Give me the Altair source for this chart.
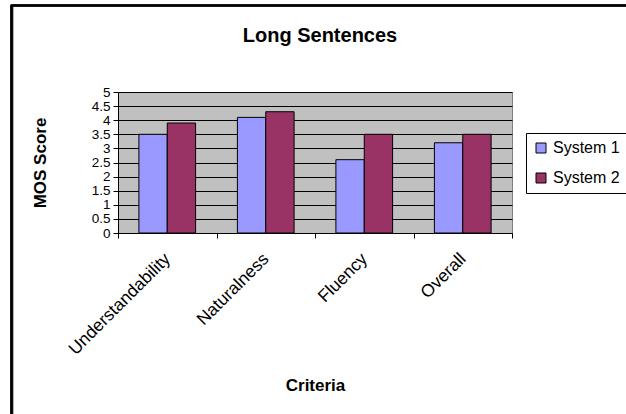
import altair as alt
import pandas as pd

# Mean opinion scores per criterion for the two systems
criteria = ["Understandability", "Naturalness", "Fluency", "Overall"]
system_names = ["System 1", "System 2"]
system1 = [3.5, 4.1, 2.6, 3.2]
system2 = [3.9, 4.3, 3.5, 3.5]
y_ticks = [0, 0.5, 1, 1.5, 2, 2.5, 3, 3.5, 4, 4.5, 5]

rows = []
for i, c in enumerate(criteria):
    rows.append({"Criteria": c, "System": system_names[0], "Score": system1[i]})
    rows.append({"Criteria": c, "System": system_names[1], "Score": system2[i]})
df = pd.DataFrame(rows)

FONT = "Liberation Sans"
W, H = 394, 141

bars = alt.Chart(df).mark_bar(stroke="black", strokeWidth=1).encode(
    x=alt.X(
        "Criteria:N",
        sort=criteria,
        scale=alt.Scale(paddingInner=0, paddingOuter=0),
        axis=alt.Axis(
            title="Criteria",
            titleFont=FONT,
            titleFontSize=17,
            titleFontWeight="bold",
            titleColor="black",
            titleX=W / 2,
            titleY=152,
            titleBaseline="middle",
            labelFont=FONT,
            labelFontSize=17.5,
            labelColor="black",
            labelAngle=315,
            labelAlign="right",
            labelBaseline="middle",
            labelPadding=18,
            tickBand="extent",
            tickColor="black",
            tickSize=5,
            domainColor="black",
            grid=False,
        ),
    ),
    xOffset=alt.XOffset(
        "System:N",
        sort=system_names,
        scale=alt.Scale(paddingInner=0, paddingOuter=0.737),
    ),
    y=alt.Y(
        "Score:Q",
        scale=alt.Scale(domain=[0, 5], nice=False),
        axis=alt.Axis(
            title="MOS Score",
            titleFont=FONT,
            titleFontSize=17,
            titleFontWeight="bold",
            titleColor="black",
            titleAngle=270,
            titleX=-78,
            titleY=H / 2,
            titleAlign="center",
            titleBaseline="middle",
            values=y_ticks,
            format="~g",
            labelFont=FONT,
            labelFontSize=13.5,
            labelColor="black",
            labelPadding=3,
            tickColor="black",
            tickSize=5,
            domainColor="black",
            grid=True,
            gridColor="black",
            gridWidth=1,
            gridOpacity=1,
        ),
    ),
    color=alt.Color(
        "System:N",
        sort=system_names,
        scale=alt.Scale(domain=system_names, range=["#9999FF", "#993366"]),
        legend=alt.Legend(
            title=None,
            orient="none",
            legendX=408,
            legendY=41,
            fillColor="white",
            strokeColor="black",
            padding=7,
            rowPadding=14,
            labelFont=FONT,
            labelFontSize=16,
            labelColor="black",
            labelOffset=4,
            symbolType="square",
            symbolSize=100,
            symbolStrokeColor="black",
            symbolStrokeWidth=1,
            symbolOpacity=1,
        ),
    ),
)

# Outer chart frame (top and left edges fall inside the canvas)
frame = alt.Chart(df).mark_rect(fill=None, stroke="black", strokeWidth=1.5).encode(
    x=alt.value(-106.5), x2=alt.value(700), y=alt.value(-86.5), y2=alt.value(500)
)
frame_shadow = alt.Chart(df).mark_rule(color="#b0b0b0", strokeWidth=1.5).encode(
    x=alt.value(-105), y=alt.value(-85), y2=alt.value(500)
)

chart = alt.layer(frame_shadow, frame, bars).properties(
    width=W,
    height=H,
    title=alt.TitleParams(
        "Long Sentences",
        font=FONT,
        fontSize=20,
        fontWeight="bold",
        color="black",
        anchor="middle",
        baseline="alphabetic",
        offset=-57,
        dx=5,
    ),
    autosize=alt.AutoSizeParams(type="none"),
    padding={"left": 118, "top": 92, "right": 114, "bottom": 181},
    background="white",
).configure_view(
    fill="#C0C0C0", stroke="#808080", strokeWidth=1
)

chart.save("out.html", embed_options={"renderer": "svg", "actions": False})
